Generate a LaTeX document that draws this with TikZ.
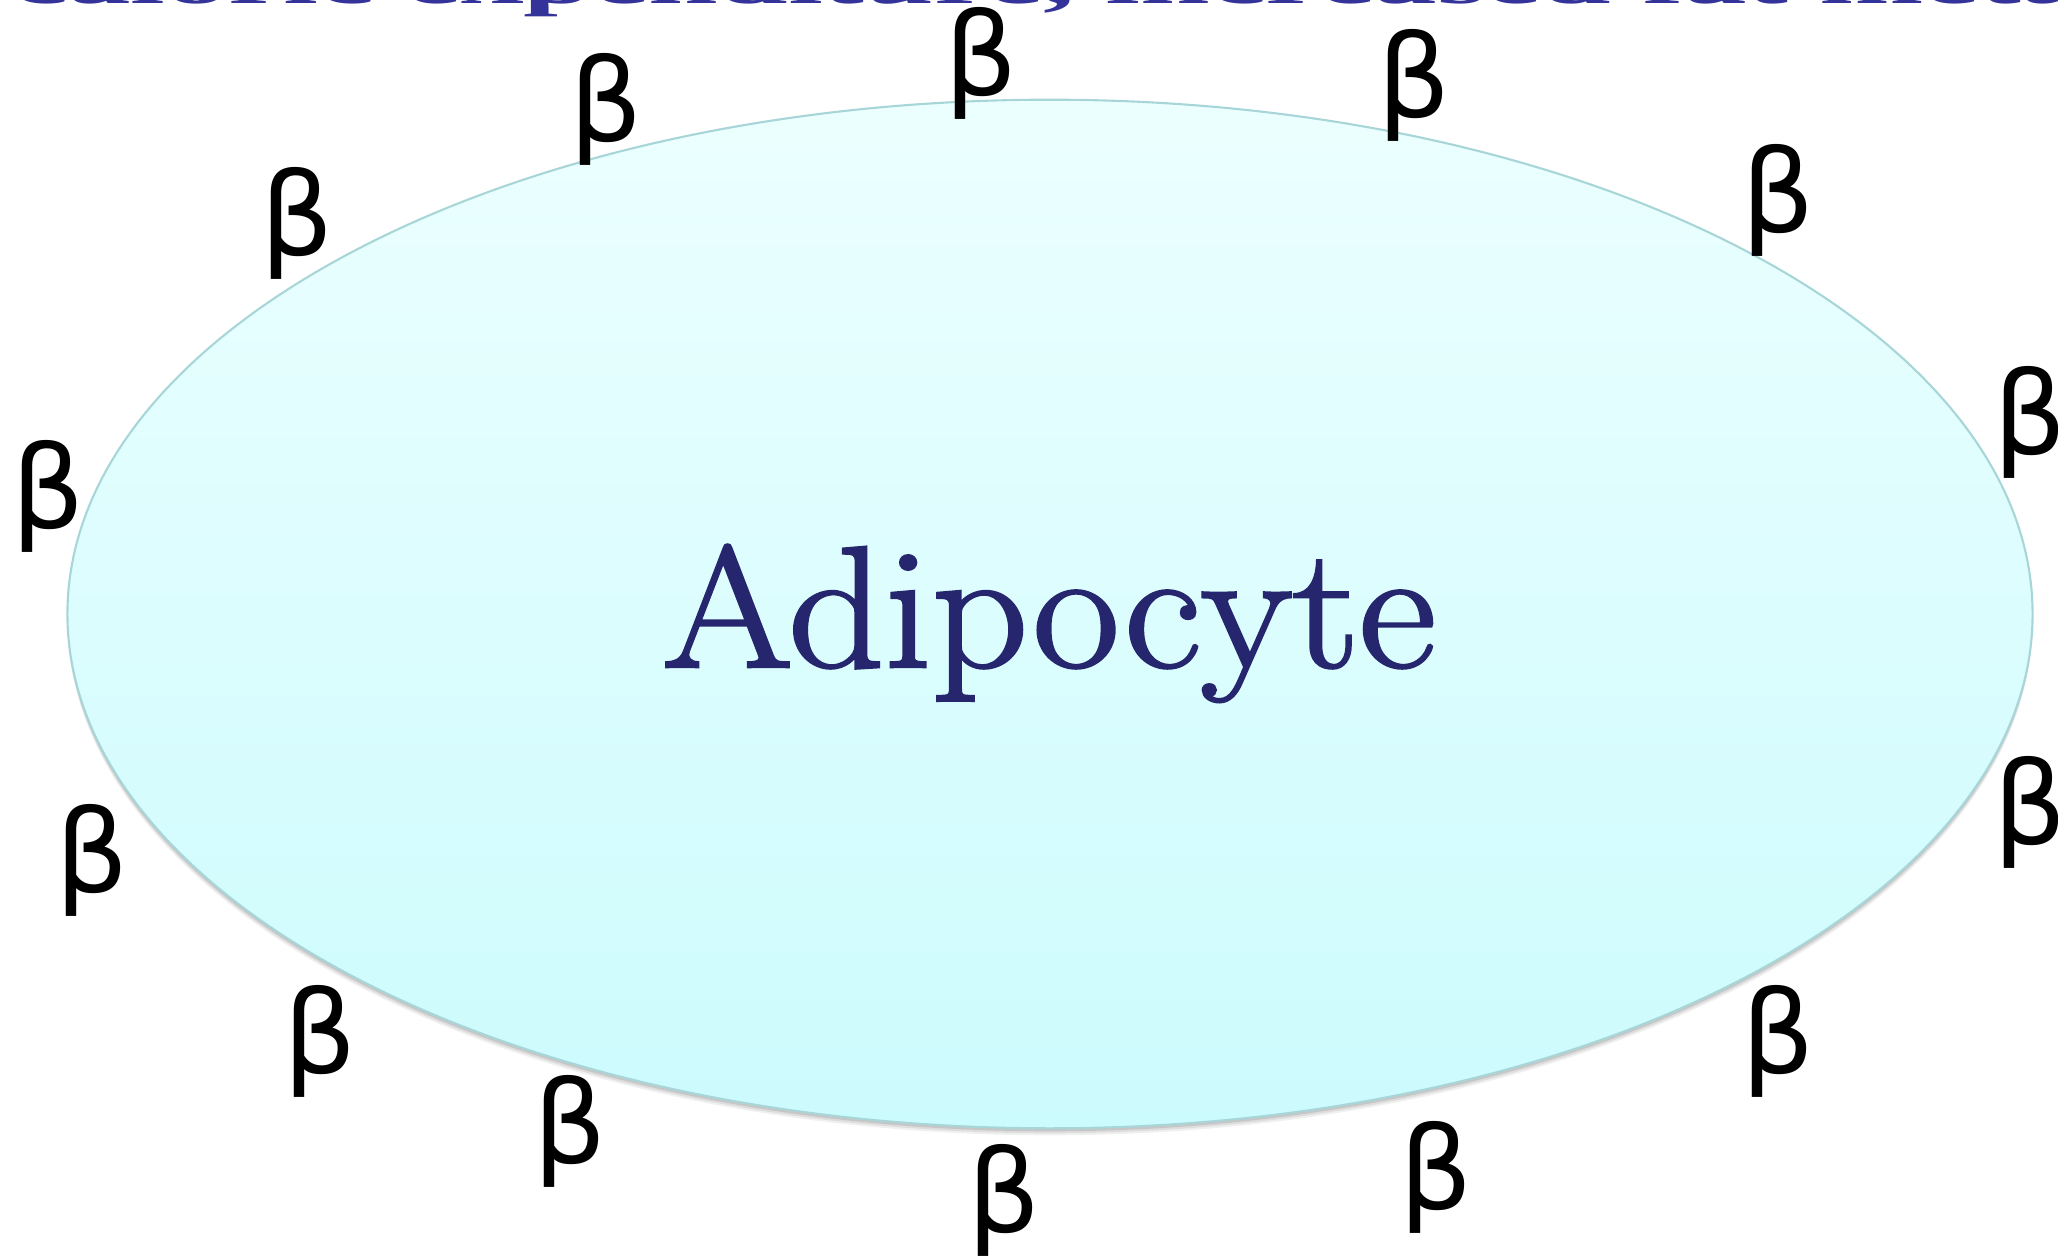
\documentclass[tikz,border=0pt]{standalone}
\usepackage{fontspec}
\usetikzlibrary{shapes.geometric}
\newfontfamily\betafont{DejaVu Sans}
\newfontfamily\titlefont{Liberation Serif}
\newfontfamily\cellfont[FakeBold=1.6]{Latin Modern Roman}
\definecolor{celltop}{RGB}{236,255,255}
\definecolor{cellbot}{RGB}{204,251,253}
\definecolor{celledge}{RGB}{168,214,216}
\definecolor{labelblue}{RGB}{38,38,110}
\definecolor{titleblue}{RGB}{51,51,153}
\tikzset{
  beta/.style={inner sep=0pt, text=black, font=\betafont\fontsize{32.7pt}{36pt}\selectfont},
  cell/.style={ellipse, inner sep=0pt, minimum width=19.64cm, minimum height=10.28cm,
    top color=celltop, bottom color=cellbot, draw=celledge, line width=0.6pt},
  cellshadow/.style={ellipse, inner sep=0pt, minimum width=19.64cm, minimum height=10.28cm,
    fill=black, draw=none},
}
\begin{document}
\begin{tikzpicture}[x=0.01cm,y=-0.01cm]
\useasboundingbox (0,0) rectangle (2058,1258);
\clip (0,0) rectangle (2058,1258);
% title remnant (cut off at the top)
\node[anchor=base west, inner sep=0pt, text=titleblue] (title) at (12,4)
  {\titlefont\bfseries\fontsize{35.6pt}{40pt}\selectfont\scalebox{1}[0.5]{caloric expenditure, increased fat metabolism}};
% shadow
\node[cellshadow, opacity=0.06] (sh1) at (1050,621) {};
\node[cellshadow, opacity=0.08] (sh2) at (1050,619) {};
\node[cellshadow, opacity=0.10] (sh3) at (1050,617) {};
% cell
\node[cell] (cell) at (1050,614) {};
\node[anchor=base, inner sep=0pt, text=labelblue, font=\cellfont\fontsize{49.2pt}{55pt}\selectfont] (name) at (1049,667) {\scalebox{1.09}[1]{Adipocyte}};
% receptors
\node[beta] (b1) at (606,109) {β};
\node[beta] (b2) at (981,63) {β};
\node[beta] (b3) at (1414,85) {β};
\node[beta] (b4) at (1778,200) {β};
\node[beta] (b5) at (2030,422) {β};
\node[beta] (b6) at (297,223) {β};
\node[beta] (b7) at (48,496) {β};
\node[beta] (b8) at (92,860) {β};
\node[beta] (b9) at (2030,812) {β};
\node[beta] (b10) at (320,1041) {β};
\node[beta] (b11) at (570,1131) {β};
\node[beta] (b12) at (1004,1200) {β};
\node[beta] (b13) at (1436,1177) {β};
\node[beta] (b14) at (1778,1041) {β};
\end{tikzpicture}
\end{document}
